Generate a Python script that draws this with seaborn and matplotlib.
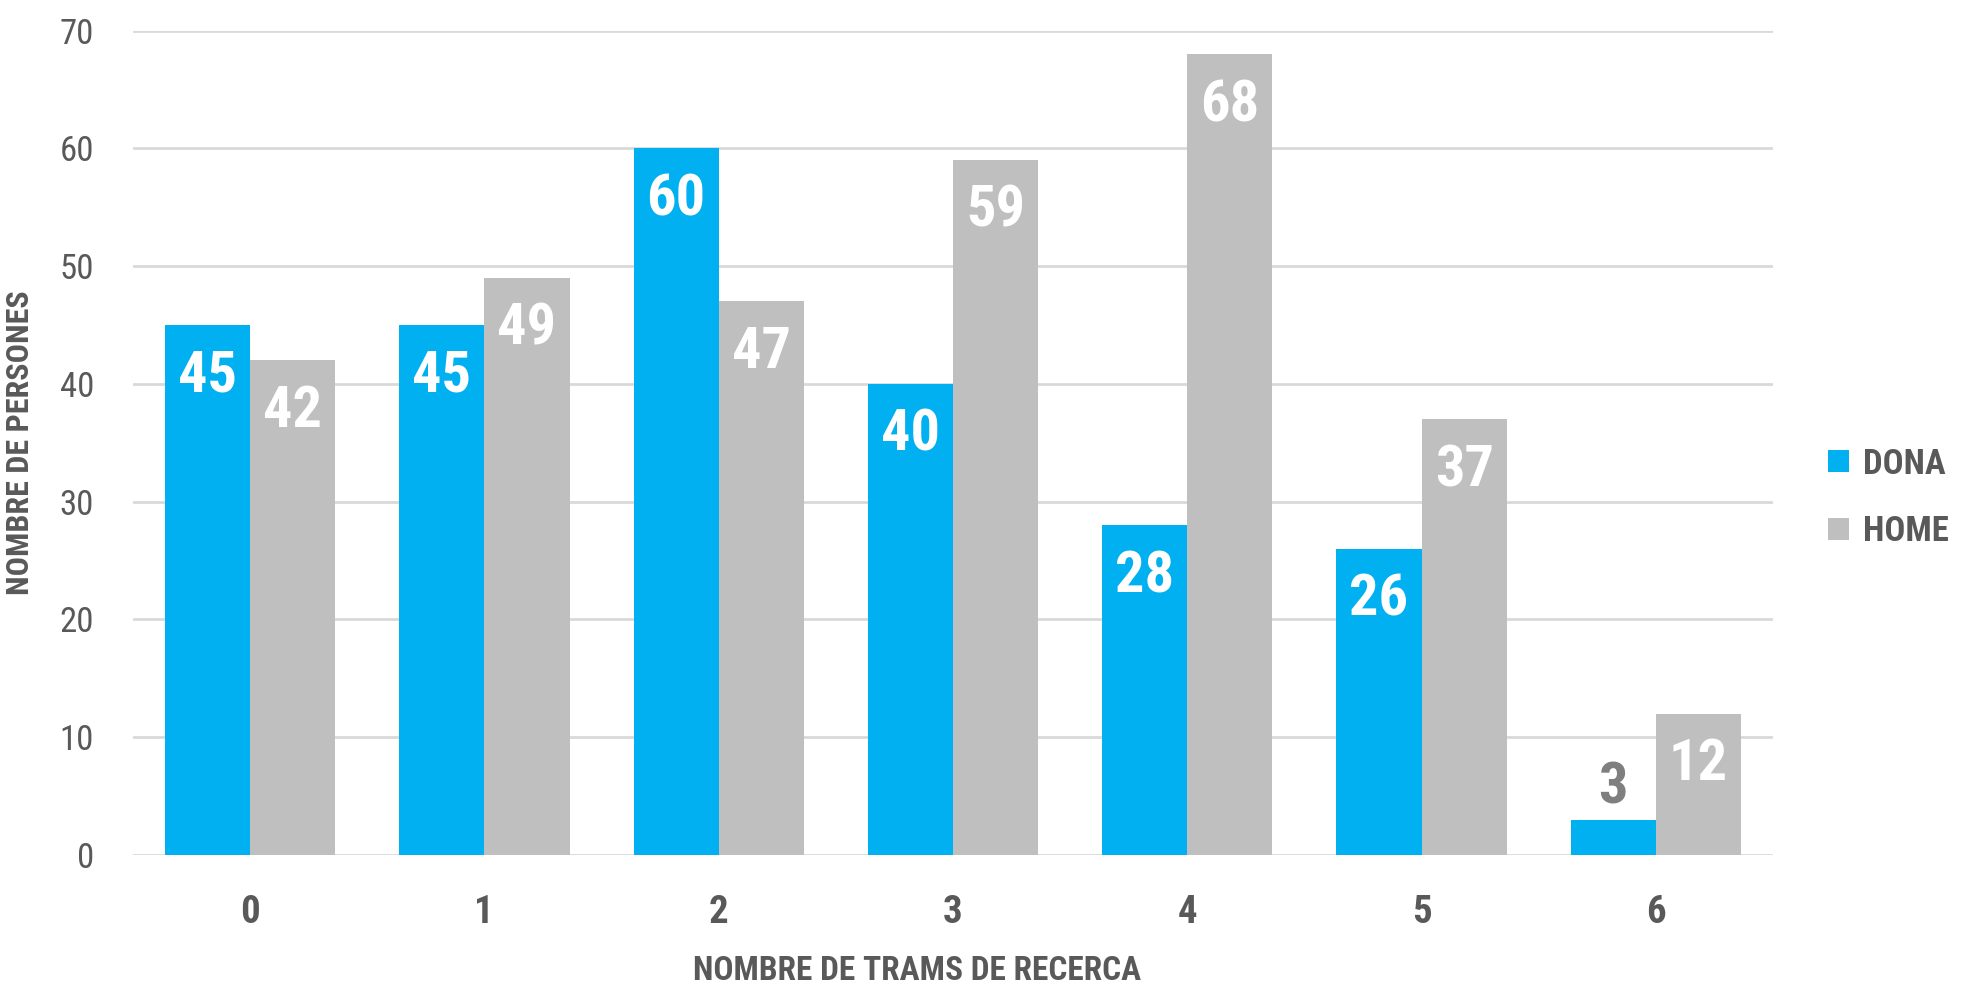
import pandas as pd
import seaborn as sns
import matplotlib.pyplot as plt
from matplotlib import font_manager

# data
trams = ["0", "1", "2", "3", "4", "5", "6"]
dona = [45, 45, 60, 40, 28, 26, 3]
home = [42, 49, 47, 59, 68, 37, 12]
series = ["DONA", "HOME"]
colors = ["#00B0F0", "#BFBFBF"]
text_grey = "#595959"


def pick_font(candidates):
    for name in candidates:
        try:
            font_manager.findfont(font_manager.FontProperties(family=name),
                                  fallback_to_default=False)
            return name
        except Exception:
            continue
    return "DejaVu Sans"


sns.set_style("white")
font = pick_font(["Liberation Sans Narrow", "Roboto Condensed", "Open Sans Condensed", "Roboto"])
plt.rcParams["font.family"] = [font, "DejaVu Sans"]

df = pd.DataFrame({
    "trams": trams * 2,
    "persones": dona + home,
    "sexe": [series[0]] * len(dona) + [series[1]] * len(home),
})

fig = plt.figure(figsize=(19.69, 9.86), dpi=100)
ax = fig.add_axes([0.0675, 0.133, 0.833, 0.836])

sns.barplot(data=df, x="trams", y="persones", hue="sexe", palette=colors,
            width=0.727, saturation=1, linewidth=0, ax=ax, legend=True)

ax.set_ylim(0, 70)
ax.set_xlim(-0.5, 6.5)
ax.set_yticks(range(0, 71, 10))
ax.grid(axis="y", color="#D9D9D9", linewidth=2)
ax.set_axisbelow(True)
for s in ax.spines.values():
    s.set_visible(False)
ax.tick_params(axis="y", length=0, labelsize=25, labelcolor=text_grey, pad=28)
ax.tick_params(axis="x", length=0, labelsize=28, labelcolor=text_grey, pad=28)
for lbl in ax.get_xticklabels():
    lbl.set_fontweight("bold")

ax.set_xlabel("NOMBRE DE TRAMS DE RECERCA", fontsize=24, color=text_grey,
              fontweight="bold")
ax.xaxis.set_label_coords(0.478, -0.122)
ax.set_ylabel("NOMBRE DE PERSONES", fontsize=23, color=text_grey,
              fontweight="bold", labelpad=18)

# value labels: inside the bar top in white, above the bar in grey when too short
for container in ax.containers:
    for bar in container:
        h = bar.get_height()
        xc = bar.get_x() + bar.get_width() / 2
        if h >= 10:
            ax.annotate(f"{int(h)}", (xc, h), xytext=(0, -37), textcoords="offset points",
                        ha="center", va="center", color="white", fontsize=42,
                        fontweight="bold")
        else:
            ax.annotate(f"{int(h)}", (xc, h), xytext=(0, 23), textcoords="offset points",
                        ha="center", va="center", color="#7F7F7F", fontsize=42,
                        fontweight="bold")

leg = ax.legend(loc="center left", bbox_to_anchor=(1.025, 0.433), frameon=False,
                fontsize=25, handlelength=0.6, handleheight=0.6, handletextpad=0.4,
                labelspacing=1.0, borderaxespad=0)
for t in leg.get_texts():
    t.set_color(text_grey)
    t.set_fontweight("bold")

fig.savefig("out.png", dpi=100)
